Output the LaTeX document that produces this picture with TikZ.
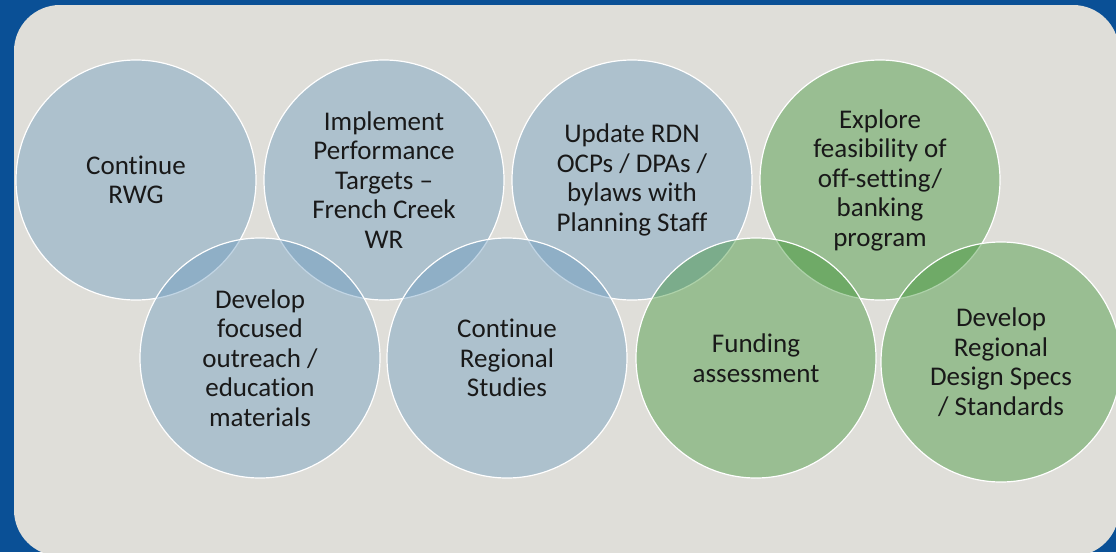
\documentclass[tikz,border=0pt]{standalone}
\usepackage{fontspec}
\setmainfont{Carlito}[Ligatures={TeX,NoCommon}]
\definecolor{slideblue}{RGB}{10,80,150}
\definecolor{panelgray}{RGB}{223,222,217}
\definecolor{goalblue}{RGB}{100,150,188}
\definecolor{goalgreen}{RGB}{50,142,40}

\begin{document}
\begin{tikzpicture}[x=1pt, y=-1pt,
    goal/.style ={circle, draw=white, line width=1.2pt, minimum size=240pt, inner sep=0pt,
      fill opacity=0.4, text opacity=1, align=center, text=black!90,
      font=\fontsize{27}{29.5}\selectfont},
    current/.style ={goal, fill=goalblue},
    future/.style ={goal, fill=goalgreen}]
   \useasboundingbox (0,0) rectangle (1116,552);
   \fill[slideblue] (0,0) rectangle (1116,552);
   \fill[panelgray, rounded corners=46pt] (14,5) rectangle (1119,556);

   % top row
   \node[current] (A) at (136,180) {Continue\\RWG};
   \node[current] (B) at (384,180) {Implement\\Performance\\Targets –\\French Creek\\WR};
   \node[current] (C) at (632,180) {Update RDN\\OCPs / DPAs /\\bylaws with\\Planning Staff};
   \node[future]  (D) at (880,180) {Explore\\feasibility of\\off-setting/\\banking\\program};

   % bottom row
   \node[current] (E) at (260,358) {Develop\\focused\\outreach /\\education\\materials};
   \node[current] (F) at (507,358) {Continue\\Regional\\Studies};
   \node[future]  (G) at (756,358) {Funding\\assessment};
   \node[future]  (H) at (1001,362) {Develop\\Regional\\Design Specs\\/ Standards};
\end{tikzpicture}
\end{document}
